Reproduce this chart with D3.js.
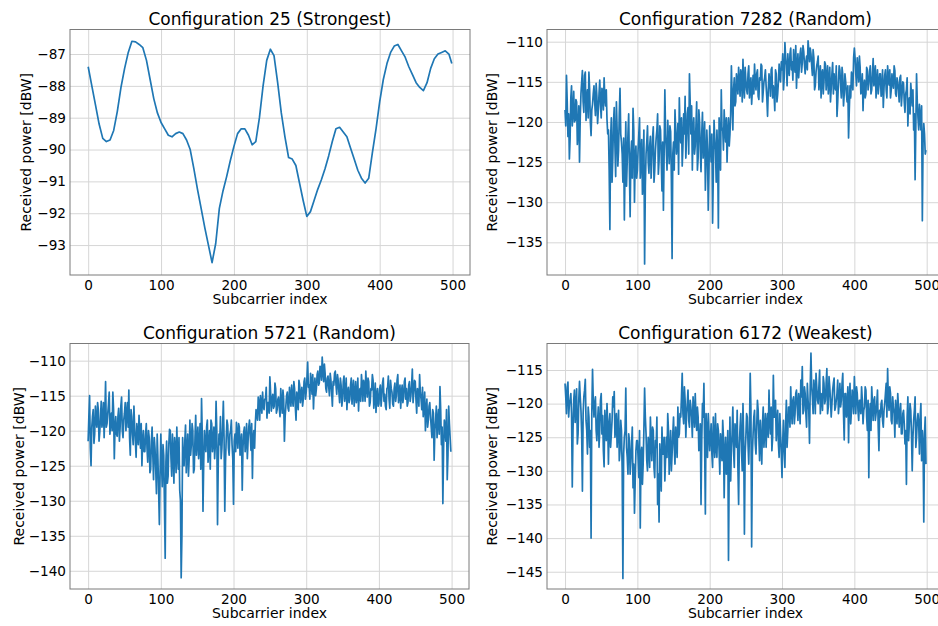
<!DOCTYPE html>
<html>
<head>
<meta charset="utf-8">
<script src="https://cdn.jsdelivr.net/npm/d3@7"></script>
<style>
  body { margin: 0; background: #fff; }
  svg { display: block; background: #fff; }
  text { font-family: "DejaVu Sans", sans-serif; fill: #000; }
</style>
</head>
<body>
<svg id="fig" width="938" height="626"></svg>
<script>
// ---- data -------------------------------------------------------------
const titles = [
  "Configuration 25 (Strongest)",
  "Configuration 7282 (Random)",
  "Configuration 5721 (Random)",
  "Configuration 6172 (Weakest)"
];
const xLabel = "Subcarrier index";
const yLabel = "Received power [dBW]";
const xTicks = [0, 100, 200, 300, 400, 500];
const yTicks25 = [-93, -92, -91, -90, -89, -88, -87];
const yTicks7282 = [-135, -130, -125, -120, -115, -110];
const yTicks5721 = [-140, -135, -130, -125, -120, -115, -110];
const yTicks6172 = [-145, -140, -135, -130, -125, -120, -115];

// subcarrier indices of the stored samples
const subcarriers25 = d3.range(0, 500, 5).concat([499]);
const subcarriersAll = d3.range(0, 500);

// received power [dBW], configuration 25 (every 5th subcarrier + last)
const power25 = [
  -87.4, -88.0, -88.6, -89.2, -89.65, -89.75, -89.7, -89.4, -88.8, -88.05,
  -87.45, -86.95, -86.6, -86.62, -86.7, -86.8, -87.2, -87.8, -88.4, -88.85,
  -89.15, -89.35, -89.55, -89.6, -89.5, -89.45, -89.5, -89.7, -90.0, -90.6,
  -91.25, -91.85, -92.45, -93.0, -93.55, -92.95, -91.85, -91.3, -90.85, -90.35,
  -89.9, -89.5, -89.35, -89.35, -89.55, -89.85, -89.75, -89.0, -88.0, -87.2,
  -86.85, -87.05, -87.9, -88.85, -89.6, -90.25, -90.3, -90.5, -91.05, -91.6,
  -92.1, -91.95, -91.6, -91.25, -90.95, -90.6, -90.2, -89.75, -89.35, -89.3,
  -89.45, -89.6, -89.95, -90.3, -90.65, -90.9, -91.05, -90.9, -90.1, -89.35,
  -88.5, -87.8, -87.3, -86.95, -86.75, -86.7, -86.9, -87.1, -87.4, -87.65,
  -87.9, -88.05, -88.15, -87.9, -87.45, -87.15, -87.0, -86.95, -86.9, -87.0,
  -87.3
];

// received power [dBW], configuration 7282: even subcarriers 0..498
const power7282Even = [
  -118.5, -114.2, -121.8, -124.6, -117.0, -120.5, -116.2, -119.8, -117.5, -121.0,
  -125.0, -116.5, -113.6, -118.8, -113.8, -117.2, -119.5, -116.0, -121.7, -117.8,
  -115.5, -119.2, -116.8, -118.6, -114.8, -119.5, -116.2, -114.5, -118.0, -119.7,
  -121.0, -133.4, -119.5, -124.5, -118.2, -126.8, -121.0, -123.5, -115.8, -122.5,
  -127.5, -132.2, -120.0, -124.8, -119.0, -131.8, -122.4, -118.3, -130.0, -123.0,
  -126.0, -121.5, -127.0, -122.2, -125.8, -137.7, -124.0, -120.5, -126.4, -121.8,
  -124.5, -120.6, -126.0, -122.0, -119.0, -124.8, -121.0, -128.6, -131.0, -116.0,
  -123.5, -119.8, -125.2, -121.2, -137.0, -122.5, -118.5, -124.0, -120.2, -117.0,
  -122.6, -125.5, -119.0, -116.8, -122.0, -118.2, -114.0, -121.5, -126.0, -119.5,
  -123.0, -117.5, -124.5, -120.0, -126.2, -118.8, -122.8, -128.5, -121.0, -131.0,
  -120.5, -125.0, -132.6, -119.8, -123.5, -121.0, -133.2, -122.0, -116.0, -120.8,
  -118.5, -122.5, -125.0, -119.5, -121.5, -113.0, -121.0, -114.5, -117.5, -115.0,
  -113.2, -116.8, -114.0, -112.2, -117.0, -114.8, -116.5, -113.0, -115.8, -117.8,
  -114.2, -112.8, -116.0, -113.5, -117.2, -114.8, -113.0, -116.2, -114.5, -115.5,
  -119.3, -114.0, -116.8, -113.2, -115.5, -118.6, -114.0, -116.5, -112.8, -115.0,
  -113.5, -116.0, -110.1, -113.0, -111.5, -114.2, -110.8, -112.5, -111.0, -113.8,
  -115.8, -111.5, -113.0, -110.8, -112.6, -111.2, -114.0, -111.8, -109.9, -112.5,
  -111.5, -114.2, -112.0, -115.5, -113.0, -111.8, -114.8, -117.0, -113.5, -115.0,
  -112.8, -114.5, -116.5, -113.2, -115.8, -112.6, -114.0, -116.0, -119.3, -115.0,
  -113.5, -117.0, -114.2, -116.5, -115.0, -117.5, -122.0, -115.5, -113.8, -116.0,
  -110.8, -114.0, -112.0, -115.0, -113.2, -116.2, -118.6, -114.8, -116.5, -113.5,
  -115.2, -113.0, -116.0, -112.1, -114.5, -117.0, -113.5, -115.5, -114.0, -116.2,
  -118.2, -114.2, -116.0, -113.0, -115.4, -117.0, -114.0, -115.8, -113.6, -116.8,
  -115.0, -117.5, -114.2, -116.5, -115.2, -118.8, -116.0, -120.5, -117.0, -115.2,
  -118.0, -121.0, -127.2, -114.0, -119.5, -117.8, -121.0, -132.3, -120.2, -124.0
];
// configuration 7282: odd subcarriers 1..499
const power7282Odd = [
  -120.5, -117.5, -119.0, -122.0, -115.5, -118.8, -120.0, -117.2, -122.8, -118.0,
  -119.5, -115.0, -117.5, -114.2, -119.8, -116.0, -113.8, -120.0, -118.5, -116.5,
  -117.5, -115.2, -120.2, -116.5, -117.8, -115.8, -118.5, -117.0, -116.0, -121.5,
  -126.0, -122.0, -127.5, -120.0, -123.0, -117.5, -125.5, -119.0, -121.5, -124.0,
  -122.0, -125.5, -128.0, -121.5, -126.0, -124.0, -127.0, -121.0, -124.5, -127.0,
  -123.5, -119.5, -124.5, -129.0, -121.0, -128.0, -122.5, -125.0, -123.0, -127.0,
  -122.0, -127.5, -123.5, -121.0, -126.5, -120.5, -124.5, -122.5, -124.0, -121.5,
  -126.0, -122.5, -120.5, -127.0, -124.0, -126.0, -121.0, -122.5, -126.5, -121.0,
  -119.5, -123.0, -121.5, -124.5, -119.0, -124.0, -117.5, -118.0, -121.0, -124.0,
  -120.5, -126.0, -118.5, -123.5, -121.5, -124.5, -120.0, -125.0, -123.5, -126.0,
  -123.0, -121.5, -126.5, -122.0, -127.5, -124.0, -119.5, -126.0, -121.0, -123.5,
  -121.0, -119.5, -121.5, -123.0, -119.0, -117.0, -116.0, -118.0, -114.0, -116.5,
  -115.0, -113.5, -117.5, -115.5, -113.2, -116.0, -114.0, -117.0, -114.5, -116.0,
  -116.5, -115.0, -114.0, -116.8, -114.5, -112.8, -117.5, -115.0, -113.5, -117.0,
  -116.0, -115.0, -113.5, -117.0, -116.5, -113.5, -117.5, -115.0, -114.5, -112.5,
  -111.5, -114.5, -112.0, -115.5, -113.2, -111.5, -113.5, -114.8, -112.8, -110.5,
  -113.0, -114.5, -111.5, -113.8, -110.5, -112.8, -112.5, -113.5, -111.0, -110.8,
  -113.0, -111.0, -116.0, -113.8, -112.5, -116.0, -113.0, -114.0, -116.5, -112.5,
  -116.0, -113.0, -115.0, -117.5, -114.0, -116.5, -115.5, -113.0, -117.5, -113.0,
  -115.5, -113.2, -118.0, -114.0, -116.5, -115.5, -118.5, -117.0, -115.0, -112.0,
  -112.0, -115.5, -113.5, -111.8, -116.5, -114.0, -115.5, -117.0, -113.2, -116.0,
  -113.8, -116.5, -114.0, -115.5, -113.0, -115.0, -116.5, -114.0, -116.8, -113.5,
  -115.8, -113.5, -117.0, -114.5, -113.5, -116.0, -115.2, -113.0, -116.5, -114.5,
  -116.0, -114.5, -118.0, -115.0, -117.5, -116.5, -114.5, -117.5, -119.0, -116.5,
  -116.0, -119.0, -120.5, -117.5, -121.0, -119.5, -118.0, -122.5, -121.5, -123.5
];

// received power [dBW], configuration 5721: even subcarriers 0..498
const power5721Even = [
  -121.5, -115.0, -125.0, -118.0, -121.8, -116.5, -119.5, -117.0, -120.2, -115.8,
  -118.5, -121.0, -113.0, -119.0, -116.2, -120.5, -117.5, -114.5, -124.0, -118.0,
  -120.8, -116.8, -119.5, -115.2, -121.0, -117.5, -120.0, -116.0, -114.2, -123.5,
  -118.0, -122.0, -119.5, -123.8, -120.5, -117.8, -122.5, -125.0, -120.0, -123.0,
  -119.0, -124.5, -121.0, -125.5, -119.5, -127.0, -122.5, -129.0, -124.0, -133.4,
  -120.5, -128.0, -123.5, -138.2, -121.5, -126.5, -119.8, -124.0, -120.5, -127.5,
  -122.5, -119.5, -125.5, -128.5, -141.0, -121.0, -125.0, -119.2, -123.0, -126.5,
  -118.5, -122.0, -120.0, -125.5, -117.8, -121.5, -124.0, -119.0, -115.4, -131.5,
  -120.0, -123.0, -118.5, -122.2, -125.5, -119.0, -121.5, -124.0, -115.8, -133.4,
  -120.5, -118.0, -122.5, -115.8, -131.5, -121.0, -119.2, -123.5, -120.0, -122.0,
  -130.5, -120.5, -118.8, -122.5, -119.5, -121.8, -128.5, -120.2, -123.0, -119.0,
  -121.5, -118.5, -122.8, -126.8, -120.0, -119.0, -117.5, -115.2, -118.5, -116.0,
  -114.5, -117.0, -115.5, -118.2, -116.0, -112.3, -117.2, -114.8, -116.5, -114.0,
  -117.0, -115.2, -118.0, -116.0, -114.2, -121.5, -116.5, -114.5, -117.2, -115.0,
  -113.5, -116.5, -114.0, -118.5, -115.2, -112.8, -116.0, -113.8, -115.5, -112.5,
  -114.5, -110.2, -113.5, -111.8, -114.8, -116.9, -112.5, -114.0, -111.5, -113.2,
  -111.0, -109.5, -113.0, -111.8, -114.5, -112.2, -115.0, -112.8, -116.5, -113.5,
  -111.5, -114.8, -112.8, -116.0, -113.5, -115.5, -112.2, -114.5, -117.0, -113.8,
  -115.5, -112.5, -114.2, -116.5, -113.0, -115.0, -117.2, -114.0, -112.0, -115.8,
  -113.5, -111.5, -115.2, -113.0, -116.0, -114.2, -112.8, -115.5, -117.4, -114.0,
  -116.2, -113.5, -115.0, -112.5, -114.8, -117.0, -113.8, -115.5, -112.8, -114.5,
  -116.5, -113.2, -115.0, -112.0, -114.8, -116.8, -113.5, -115.2, -112.5, -114.0,
  -116.0, -113.0, -115.0, -111.2, -114.5, -113.0, -117.5, -114.2, -112.0, -115.5,
  -113.8, -116.5, -120.0, -115.5, -118.5, -116.0, -119.5, -117.0, -124.2, -118.5,
  -121.0, -117.0, -113.7, -122.0, -130.4, -118.5, -121.5, -127.0, -116.5, -121.0
];
// configuration 5721: odd subcarriers 1..499
const power5721Odd = [
  -118.0, -122.5, -119.5, -117.0, -120.5, -118.5, -116.0, -121.5, -118.0, -119.5,
  -116.0, -117.5, -119.5, -117.5, -114.5, -118.5, -120.0, -117.0, -119.5, -120.5,
  -118.0, -121.5, -116.5, -120.0, -118.5, -116.0, -117.5, -119.5, -121.0, -117.0,
  -120.5, -116.5, -121.5, -119.0, -122.0, -120.0, -119.0, -121.5, -123.0, -120.5,
  -122.5, -120.0, -126.0, -121.5, -123.5, -121.0, -125.5, -120.5, -128.5, -126.0,
  -125.0, -122.0, -130.5, -124.5, -127.5, -122.0, -120.0, -126.5, -123.0, -121.0,
  -126.0, -123.5, -121.0, -130.0, -135.0, -124.5, -121.5, -126.0, -120.5, -124.0,
  -123.5, -119.0, -126.0, -121.0, -123.5, -119.5, -122.0, -125.5, -120.5, -124.5,
  -122.0, -119.5, -124.5, -120.0, -118.5, -123.0, -119.5, -122.0, -120.0, -124.5,
  -122.0, -124.0, -119.5, -121.0, -124.5, -118.5, -122.5, -120.5, -118.5, -124.0,
  -121.5, -123.0, -120.5, -119.0, -123.5, -120.5, -122.5, -119.5, -121.5, -124.0,
  -119.5, -120.5, -119.0, -121.0, -122.5, -117.0, -118.5, -116.0, -115.0, -117.5,
  -116.5, -115.5, -113.8, -116.0, -117.5, -114.5, -115.5, -116.8, -113.2, -117.5,
  -115.5, -116.8, -114.0, -117.5, -115.5, -118.0, -115.0, -116.8, -113.8, -116.5,
  -115.5, -113.0, -116.5, -114.5, -117.0, -113.5, -114.8, -116.5, -113.0, -115.5,
  -112.5, -113.8, -115.5, -113.0, -112.0, -114.0, -115.0, -112.0, -113.5, -110.8,
  -112.8, -111.5, -110.5, -114.0, -112.5, -113.8, -111.8, -114.5, -113.0, -111.8,
  -113.5, -112.0, -114.5, -112.5, -116.5, -113.0, -115.8, -112.5, -114.5, -116.0,
  -113.5, -116.2, -112.8, -114.8, -116.0, -112.5, -114.5, -115.8, -113.5, -112.8,
  -115.8, -113.8, -112.5, -116.5, -114.0, -112.0, -116.8, -113.2, -115.0, -116.5,
  -114.0, -116.5, -113.2, -115.8, -116.5, -114.0, -112.2, -116.8, -114.0, -116.2,
  -114.0, -115.8, -112.8, -116.0, -113.5, -114.5, -116.0, -113.0, -115.5, -116.5,
  -113.5, -115.8, -113.5, -116.0, -112.8, -115.5, -114.0, -116.5, -114.5, -117.0,
  -118.0, -114.5, -117.0, -119.5, -116.5, -118.0, -121.0, -117.5, -120.0, -116.5,
  -118.5, -120.5, -117.0, -119.5, -122.5, -119.5, -117.0, -123.5, -119.0, -123.0
];

// received power [dBW], configuration 6172: even subcarriers 0..498
const power6172Even = [
  -117.0, -121.5, -116.8, -120.0, -118.5, -132.4, -119.5, -122.8, -117.8, -124.5,
  -116.7, -121.0, -133.0, -119.0, -116.4, -124.0, -120.5, -126.5, -140.0, -114.9,
  -122.0, -119.0, -125.5, -120.5, -123.8, -118.5, -121.8, -129.4, -123.0, -120.0,
  -129.0, -121.5, -124.5, -119.0, -118.2, -123.5, -126.5, -121.0, -127.0, -124.0,
  -146.0, -125.0, -117.7, -128.0, -124.5, -130.5, -126.0, -132.5, -136.3, -127.0,
  -125.5, -131.0, -138.5, -126.5, -129.0, -117.7, -124.5, -130.0, -126.0, -122.0,
  -128.5, -124.0, -131.0, -126.5, -135.0, -137.6, -129.0, -123.5, -127.5, -131.5,
  -125.0, -121.5, -130.5, -124.0, -127.5, -122.0, -129.0, -126.0, -120.5, -124.5,
  -122.0, -115.5, -123.0, -119.5, -121.5, -118.0, -123.5, -120.5, -125.0, -121.0,
  -118.5, -124.0, -122.0, -126.5, -135.0, -120.0, -117.0, -136.4, -124.5, -121.5,
  -127.0, -123.0, -129.5, -125.5, -121.5, -128.0, -124.0, -130.5, -126.5, -122.5,
  -134.0, -125.0, -128.5, -143.3, -122.0, -126.5, -120.5, -129.5, -124.0, -121.0,
  -135.0, -123.5, -127.0, -120.0, -139.4, -125.0, -122.0, -129.0, -115.5, -141.3,
  -124.5, -121.0, -127.5, -119.5, -125.0, -122.5, -129.0, -120.5, -124.0, -126.5,
  -121.5, -118.0, -124.5, -127.0, -115.8, -122.0, -125.5, -121.0, -128.0, -124.5,
  -131.0, -122.5, -129.5, -119.5, -124.0, -120.5, -117.5, -123.0, -119.0, -121.5,
  -118.0, -122.5, -120.0, -116.5, -114.5, -121.0, -118.5, -123.5, -119.5, -125.9,
  -112.5, -119.0, -116.5, -121.5, -117.5, -120.0, -115.0, -118.5, -121.0, -117.0,
  -119.5, -114.8, -120.5, -117.5, -122.0, -118.0, -116.2, -120.5, -118.5, -121.5,
  -117.0, -119.5, -115.5, -125.4, -118.5, -120.5, -125.8, -117.0, -121.0, -119.0,
  -116.0, -121.5, -118.5, -122.5, -119.5, -117.5, -123.0, -120.5, -118.0, -124.0,
  -131.0, -120.0, -117.5, -122.5, -119.0, -121.5, -118.0, -127.0, -122.0, -119.5,
  -123.5, -120.0, -117.0, -114.8, -121.0, -118.5, -123.0, -120.5, -125.0, -121.5,
  -118.5, -123.5, -120.0, -124.5, -121.0, -126.0, -132.0, -119.0, -123.0, -121.0,
  -130.0, -122.5, -119.0, -125.0, -121.5, -127.5, -120.0, -124.0, -137.6, -122.0
];
// configuration 6172: odd subcarriers 1..499
const power6172Odd = [
  -119.0, -117.5, -122.0, -119.5, -121.5, -124.0, -118.0, -120.5, -126.0, -119.5,
  -119.0, -124.5, -121.5, -118.0, -122.5, -127.5, -122.0, -124.0, -121.5, -119.5,
  -120.0, -124.0, -122.5, -126.5, -119.5, -124.5, -127.0, -121.0, -125.5, -123.0,
  -123.0, -126.5, -122.5, -120.5, -125.0, -121.5, -124.0, -128.5, -122.5, -130.0,
  -127.5, -124.0, -126.5, -130.5, -125.5, -128.5, -123.5, -129.0, -131.5, -125.5,
  -128.0, -124.0, -127.5, -132.0, -124.0, -122.0, -128.5, -125.0, -129.5, -125.5,
  -123.5, -129.5, -125.5, -122.0, -130.5, -126.0, -133.0, -127.5, -125.0, -128.0,
  -128.0, -124.0, -127.0, -130.0, -124.5, -126.5, -123.5, -128.0, -125.0, -121.5,
  -119.0, -121.5, -117.5, -125.0, -120.0, -122.5, -119.5, -122.0, -119.0, -123.5,
  -122.0, -120.5, -127.0, -123.0, -125.5, -122.0, -126.0, -121.5, -128.0, -124.0,
  -125.0, -127.5, -122.0, -128.0, -126.5, -123.0, -127.0, -124.5, -128.5, -125.0,
  -127.0, -130.5, -124.0, -129.0, -131.5, -124.5, -127.0, -123.0, -126.5, -129.5,
  -126.0, -121.5, -130.0, -125.5, -127.5, -121.5, -126.0, -124.0, -121.0, -127.5,
  -122.0, -126.0, -123.5, -121.0, -128.5, -125.5, -123.0, -126.5, -121.5, -123.0,
  -125.0, -122.5, -120.5, -125.0, -122.0, -119.5, -123.0, -126.0, -121.5, -127.5,
  -125.5, -127.0, -123.0, -126.5, -120.5, -123.5, -121.0, -119.5, -123.0, -118.5,
  -120.5, -118.5, -123.0, -119.0, -121.5, -117.5, -121.5, -117.0, -121.0, -117.5,
  -117.5, -121.5, -118.0, -115.5, -119.5, -117.5, -121.5, -119.0, -116.0, -120.0,
  -117.0, -121.5, -116.0, -119.5, -120.0, -117.0, -121.0, -119.5, -116.5, -120.0,
  -120.5, -117.0, -121.5, -118.5, -122.0, -117.5, -119.5, -123.0, -118.0, -121.5,
  -119.0, -117.5, -121.0, -119.5, -121.5, -119.5, -121.0, -117.5, -122.0, -119.5,
  -121.5, -124.0, -120.0, -119.5, -122.5, -120.0, -123.5, -121.0, -120.0, -122.5,
  -121.0, -118.5, -122.0, -119.5, -117.5, -122.5, -119.0, -121.5, -119.5, -123.0,
  -120.5, -121.5, -124.5, -121.5, -123.0, -124.0, -122.0, -125.5, -120.0, -124.5,
  -125.0, -121.0, -126.5, -122.5, -123.0, -122.0, -128.5, -126.0, -124.5, -129.0
];

// full series per subcarrier: even and odd samples interleaved
const interleave = (even, odd) => d3.merge(d3.zip(even, odd));
const power7282 = interleave(power7282Even, power7282Odd);
const power5721 = interleave(power5721Even, power5721Odd);
const power6172 = interleave(power6172Even, power6172Odd);

// ---- layout -----------------------------------------------------------
const panels = [
  { title: titles[0], x: subcarriers25, y: power25, yTicks: yTicks25,
    box: { left: 70, right: 470, top: 29.5, bottom: 275 }, yDomain: [-93.94, -86.23], yLabelX: 31 },
  { title: titles[1], x: subcarriersAll, y: power7282, yTicks: yTicks7282,
    box: { left: 547, right: 944, top: 29.5, bottom: 275 }, yDomain: [-139.07, -108.48], yLabelX: 497 },
  { title: titles[2], x: subcarriersAll, y: power5721, yTicks: yTicks5721,
    box: { left: 70, right: 469, top: 343.5, bottom: 589 }, yDomain: [-142.6, -107.55], yLabelX: 24 },
  { title: titles[3], x: subcarriersAll, y: power6172, yTicks: yTicks6172,
    box: { left: 547, right: 944, top: 343.5, bottom: 589 }, yDomain: [-147.57, -111.06], yLabelX: 497 }
];

const svg = d3.select("#fig");
const fmt = d3.format("d");

panels.forEach((p, i) => {
  const { left, right, top, bottom } = p.box;
  const w = right - left, h = bottom - top;
  const xs = d3.scaleLinear().domain([-24.95, 523.95]).range([0, w]);
  const ys = d3.scaleLinear().domain(p.yDomain).range([h, 0]);

  const g = svg.append("g").attr("transform", `translate(${left},${top})`);

  g.append("clipPath").attr("id", "clip" + i)
    .append("rect").attr("width", w).attr("height", h);

  // grid
  const gx = g.append("g").attr("transform", `translate(0,${h})`)
    .call(d3.axisBottom(xs).tickValues(xTicks).tickSize(-h).tickFormat(""));
  const gy = g.append("g")
    .call(d3.axisLeft(ys).tickValues(p.yTicks).tickSize(-w).tickFormat(""));
  [gx, gy].forEach(a => {
    a.select(".domain").remove();
    a.selectAll("line").attr("stroke", "#d6d6d6").attr("stroke-width", 1);
  });

  // series
  const line = d3.line().x((d, k) => xs(p.x[k])).y(d => ys(d));
  g.append("path")
    .datum(p.y)
    .attr("clip-path", `url(#clip${i})`)
    .attr("fill", "none")
    .attr("stroke", "#1f77b4")
    .attr("stroke-width", 1.7)
    .attr("stroke-linejoin", "round")
    .attr("d", line);

  // frame
  g.append("rect").attr("width", w).attr("height", h)
    .attr("fill", "none").attr("stroke", "#7a7a7a").attr("stroke-width", 1);

  // tick labels
  const lx = g.append("g").attr("transform", `translate(0,${h})`)
    .call(d3.axisBottom(xs).tickValues(xTicks).tickSize(0).tickPadding(5).tickFormat(fmt));
  const ly = g.append("g")
    .call(d3.axisLeft(ys).tickValues(p.yTicks).tickSize(0).tickPadding(4).tickFormat(fmt));
  [lx, ly].forEach(a => {
    a.select(".domain").remove();
    a.selectAll("text").attr("font-size", "13.6px")
      .attr("font-family", "'DejaVu Sans', sans-serif").attr("fill", "#000");
  });

  // title
  svg.append("text")
    .attr("x", left + w / 2).attr("y", top - 5)
    .attr("text-anchor", "middle").attr("font-size", "17px")
    .text(p.title);

  // axis labels
  svg.append("text")
    .attr("x", left + w / 2).attr("y", bottom + 29)
    .attr("text-anchor", "middle").attr("font-size", "14px")
    .text(xLabel);
  svg.append("text")
    .attr("transform", `translate(${p.yLabelX},${top + h / 2}) rotate(-90)`)
    .attr("text-anchor", "middle").attr("font-size", "14px")
    .text(yLabel);
});
</script>
</body>
</html>
